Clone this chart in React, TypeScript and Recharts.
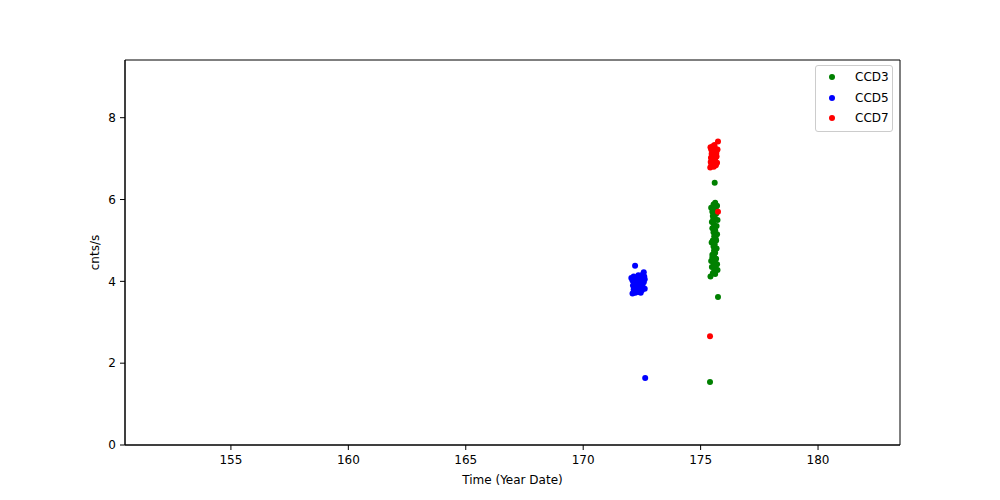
import { ScatterChart, Scatter, XAxis, YAxis, ReferenceArea } from 'recharts';

const xTicks = [155, 160, 165, 170, 175, 180];
const yTicks = [0, 2, 4, 6, 8];

const ccd3: [number, number][] = [
  [175.62, 5.92], [175.55, 5.88], [175.7, 5.85], [175.45, 5.8], [175.58, 5.75], [175.66, 5.65],
  [175.52, 5.6], [175.6, 5.55], [175.72, 5.5], [175.48, 5.45], [175.56, 5.4], [175.68, 5.35],
  [175.5, 5.3], [175.62, 5.25], [175.55, 5.2], [175.7, 5.15], [175.58, 5.1], [175.64, 5.05],
  [175.52, 5.0], [175.47, 4.95], [175.6, 4.9], [175.55, 4.85], [175.68, 4.8], [175.57, 4.75],
  [175.62, 4.7], [175.5, 4.65], [175.58, 4.6], [175.66, 4.55], [175.45, 4.5], [175.53, 4.48],
  [175.62, 4.45], [175.7, 4.42], [175.56, 4.38], [175.48, 4.35], [175.65, 4.3], [175.58, 4.25],
  [175.72, 4.28], [175.52, 4.2], [175.62, 4.18], [175.42, 4.12], [175.6, 6.41], [175.74, 3.62],
  [175.4, 1.54], [175.5, 5.7], [175.64, 5.78], [175.54, 5.52], [175.66, 5.0], [175.5, 4.58],
];

const ccd5: [number, number][] = [
  [172.21, 4.38], [172.15, 4.12], [172.2, 4.08], [172.28, 4.05], [172.35, 4.15], [172.4, 4.1],
  [172.55, 4.18], [172.6, 4.12], [172.62, 4.05], [172.1, 4.02], [172.18, 3.98], [172.25, 3.95],
  [172.32, 3.98], [172.45, 4.0], [172.52, 3.95], [172.58, 3.98], [172.12, 3.9], [172.22, 3.88],
  [172.3, 3.85], [172.4, 3.88], [172.48, 3.9], [172.55, 3.85], [172.15, 3.8], [172.28, 3.78],
  [172.38, 3.8], [172.5, 3.78], [172.62, 3.82], [172.1, 3.7], [172.22, 3.72], [172.35, 3.74],
  [172.45, 3.72], [172.64, 1.64], [172.58, 4.22], [172.05, 4.08],
];

const ccd7: [number, number][] = [
  [175.42, 7.28], [175.45, 7.22], [175.48, 7.25], [175.52, 7.3], [175.55, 7.18], [175.6, 7.27],
  [175.63, 7.2], [175.47, 7.12], [175.51, 7.08], [175.58, 7.15], [175.66, 7.1], [175.44, 7.02],
  [175.49, 6.98], [175.55, 7.05], [175.62, 7.0], [175.68, 7.05], [175.43, 6.92], [175.5, 6.9],
  [175.57, 6.95], [175.64, 6.88], [175.46, 6.85], [175.53, 6.82], [175.6, 6.86], [175.7, 6.9],
  [175.41, 6.78], [175.56, 6.8], [175.72, 7.22], [175.74, 7.42], [175.4, 2.66], [175.74, 5.7],
  [175.65, 6.84], [175.59, 7.33], [175.67, 7.14],
];

const series = [
  { name: 'CCD3', color: 'green', points: ccd3 },
  { name: 'CCD5', color: 'blue', points: ccd5 },
  { name: 'CCD7', color: 'red', points: ccd7 },
];

const xDomain: [number, number] = [150.49, 183.49];
const yDomain: [number, number] = [0, 9.41];

const font = 'DejaVu Sans, sans-serif';

const Dot = (props: any) => <circle cx={props.cx} cy={props.cy} r={3} fill={props.fill} />;

// legend drawn as an overlay so it doesn't eat into the plot area
const LegendBox = () => (
  <div
    style={{
      position: 'absolute',
      left: 815,
      top: 65,
      border: '1px solid #ccc',
      borderRadius: 3,
      background: 'white',
      padding: '1px 0 2px',
      fontFamily: font,
      fontSize: 12,
      width: 78,
      boxSizing: 'border-box',
    }}
  >
    {series.map((s) => (
      <div key={s.name} style={{ display: 'flex', alignItems: 'center', height: 20.5 }}>
        <svg width={39} height={10}>
          <circle cx={16} cy={5} r={3} fill={s.color} />
        </svg>
        <span>{s.name}</span>
      </div>
    ))}
  </div>
);

export default function App() {
  return (
    <div style={{ position: 'absolute', left: 0, top: 0, width: 1000, height: 500, background: 'white' }}>
      <ScatterChart width={1000} height={500} margin={{ top: 60, right: 100, left: 0, bottom: 0 }}>
        <XAxis
          type="number"
          dataKey="x"
          domain={xDomain}
          ticks={xTicks}
          allowDataOverflow
          height={55}
          tickSize={5}
          tickMargin={5}
          stroke="black"
          tick={{ fill: 'black', fontSize: 12, fontFamily: font }}
          label={{ value: 'Time (Year Date)', position: 'insideBottom', offset: 16, fill: 'black', fontSize: 12, fontFamily: font }}
        />
        <YAxis
          type="number"
          dataKey="y"
          domain={yDomain}
          ticks={yTicks}
          allowDataOverflow
          width={125}
          tickSize={5}
          tickMargin={4}
          stroke="black"
          tick={{ fill: 'black', fontSize: 12, fontFamily: font }}
          label={{ value: 'cnts/s', angle: -90, position: 'insideLeft', offset: 95, fill: 'black', fontSize: 12, fontFamily: font, style: { textAnchor: 'middle' } }}
        />
        <ReferenceArea x1={xDomain[0]} x2={xDomain[1]} y1={yDomain[0]} y2={yDomain[1]} fill="none" stroke="black" strokeOpacity={1} />
        {series.map((s) => (
          <Scatter
            key={s.name}
            name={s.name}
            data={s.points.map(([x, y]) => ({ x, y }))}
            fill={s.color}
            shape={<Dot />}
            isAnimationActive={false}
          />
        ))}
      </ScatterChart>
      <LegendBox />
    </div>
  );
}
